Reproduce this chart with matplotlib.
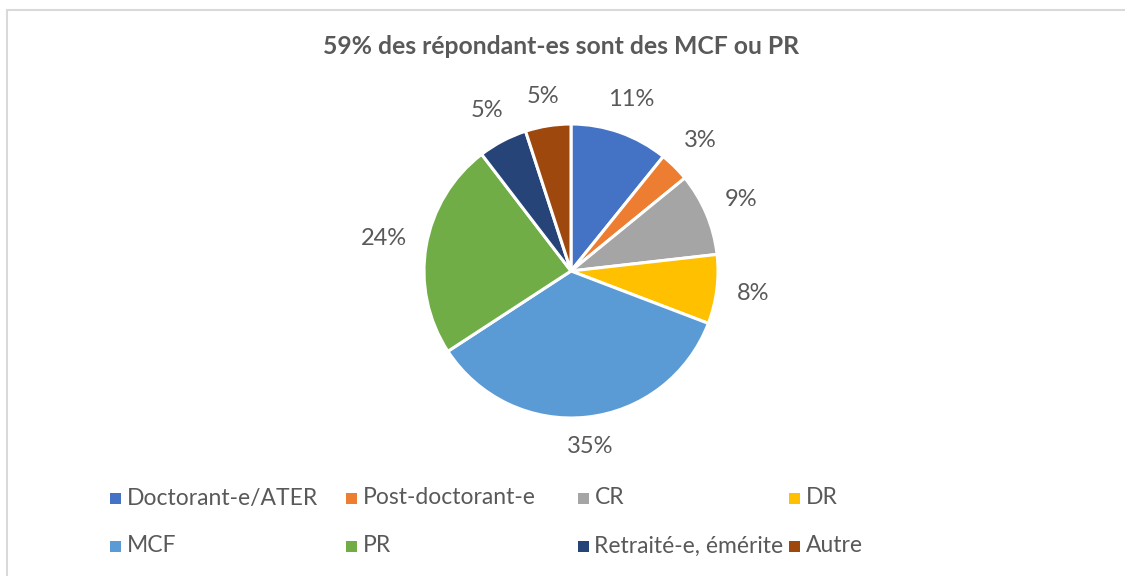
import numpy as np
import matplotlib.pyplot as plt
from matplotlib.patches import Rectangle

categories = ["Doctorant-e/ATER", "Post-doctorant-e", "CR", "DR",
              "MCF", "PR", "Retraité-e, émérite", "Autre"]
shares = [10.8, 3.3, 9.1, 7.6, 35.0, 23.8, 5.4, 5.0]
colors = ["#4472C4", "#ED7D31", "#A5A5A5", "#FFC000",
          "#5B9BD5", "#70AD47", "#264478", "#9E480E"]
title = "59% des répondant-es sont des MCF ou PR"

W, H = 1125, 576
plt.rcParams['font.family'] = ['Lato', 'DejaVu Sans']
txt_color = "#595959"
fs = 16.5

fig = plt.figure(figsize=(W / 100, H / 100), dpi=100)
ax = fig.add_axes([0, 0, 1, 1])

# chart frame (top and left edges visible)
ax.add_patch(Rectangle((7, -20), W + 20, H - 10 + 20, fill=False,
                       edgecolor="#D9D9D9", lw=1.5, zorder=0))

cx, cy, R = 571, H - 271, 147
wedges, _ = ax.pie(shares, colors=colors, startangle=90, counterclock=False,
                   center=(cx, cy), radius=R,
                   wedgeprops=dict(edgecolor="white", linewidth=2.2))

ax.set_xlim(0, W)
ax.set_ylim(0, H)
ax.set_aspect('auto')
ax.axis('off')

# percentage labels just outside each wedge ("outside end")
total = sum(shares)
gap = 19
for w, v in zip(wedges, shares):
    ang = np.deg2rad((w.theta1 + w.theta2) / 2)
    dx, dy = np.cos(ang), np.sin(ang)
    t = ax.text(0, 0, f"{100 * v / total:.0f}%", fontsize=17,
                color=txt_color, ha='center', va='center')
    bb = t.get_window_extent(renderer=fig.canvas.get_renderer())
    half = abs(dx) * bb.width / 2 + abs(dy) * bb.height / 2 * 0.8
    d = R + gap + half
    t.set_position((cx + d * dx, cy + d * dy))

ax.text(561.5, H - 46, title, ha='center', va='center', fontsize=17.8,
        fontweight='bold', color=txt_color)

# legend, laid out in Excel's fixed grid
col_x = [115.5, 351.5, 583, 794]
row_y = [H - 498, H - 546]
for i, (lab, col) in enumerate(zip(categories, colors)):
    r, c = divmod(i, 4)
    ax.add_patch(Rectangle((col_x[c] - 5.5, row_y[r] - 5.5), 11, 11,
                           facecolor=col, edgecolor='none'))
    ax.text(col_x[c] + 11.5, row_y[r], lab, ha='left', va='center',
            fontsize=fs, color=txt_color)

fig.savefig("out.png", dpi=100)
